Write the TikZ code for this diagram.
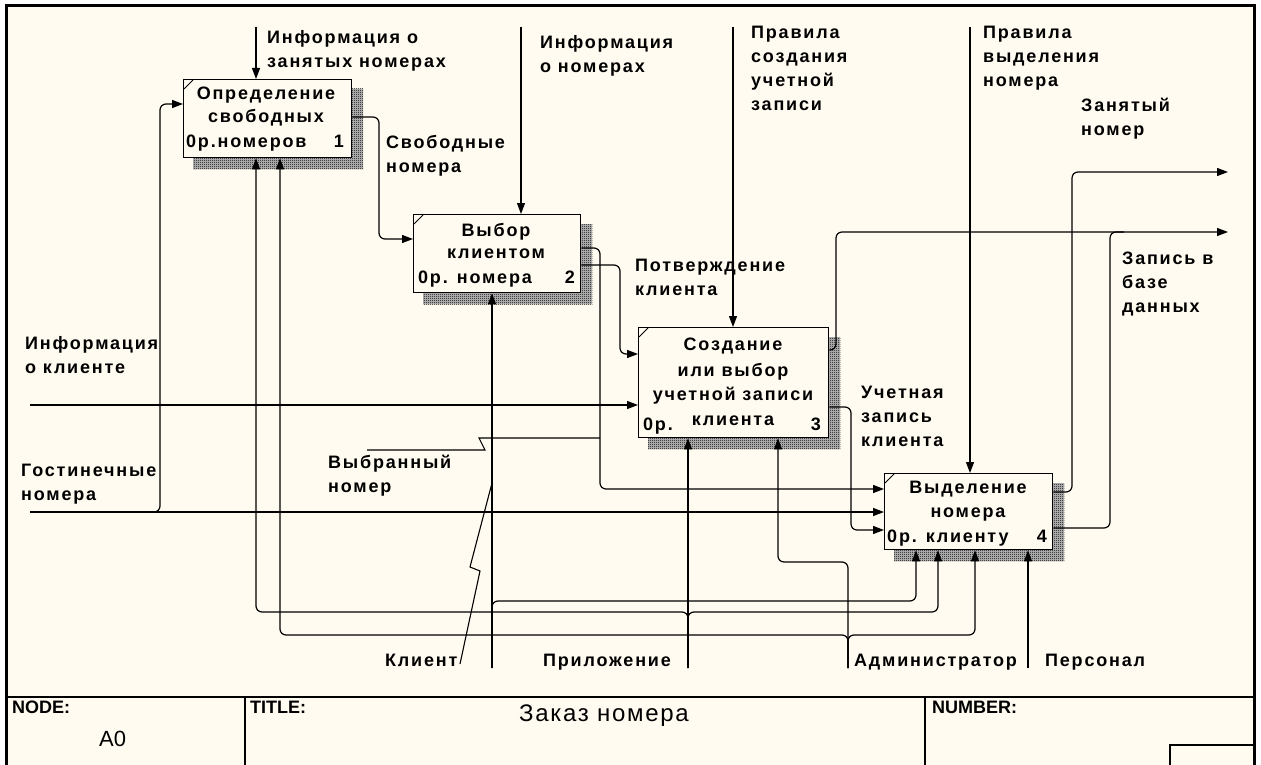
\documentclass[tikz,border=0pt]{standalone}
\usepackage{fontspec}
\setmainfont{Liberation Sans}
\newfontfamily\idef[LetterSpace=10]{Liberation Sans}
\newfontfamily\titlefont[LetterSpace=7]{Liberation Sans}
\usetikzlibrary{arrows.meta,patterns,backgrounds}
\definecolor{paper}{HTML}{FFFBF0}

% fine 1:1 checker used for the drop shadows of the function boxes
\pgfdeclarepatternformonly{checker}{\pgfqpoint{0pt}{0pt}}{\pgfqpoint{2pt}{2pt}}{\pgfqpoint{2pt}{2pt}}{%
  \pgfpathrectangle{\pgfqpoint{0pt}{0pt}}{\pgfqpoint{1pt}{1pt}}%
  \pgfpathrectangle{\pgfqpoint{1pt}{1pt}}{\pgfqpoint{1pt}{1pt}}%
  \pgfusepath{fill}}

\tikzset{
  fbox/.style={draw, fill=paper, line width=1.3pt, inner sep=0pt, anchor=north west},
  boxshadow/.style={fill=black!25, postaction={pattern=checker, pattern color=black}},
  conn/.style={line width=1.2pt, rounded corners=6pt},
  arr/.style={conn, -{Triangle[length=11pt,width=8pt]}},
  zig/.style={line width=1.1pt},
  lbl/.style={font=\idef\bfseries\fontsize{18}{24}\selectfont, align=left, inner sep=0pt, anchor=north west},
  btxt/.style={font=\idef\bfseries\fontsize{18}{24}\selectfont, inner sep=0pt, anchor=base},
  hdr/.style={font=\bfseries\fontsize{18}{20}\selectfont, inner sep=0pt, anchor=north west},
}

\begin{document}
\begin{tikzpicture}[x=1pt,y=-1pt]
\useasboundingbox (0,0) rectangle (1261,765);

% ---------- function boxes ----------
\node[fbox, minimum width=168pt, minimum height=78pt]  (b1) at (183,79)  {};
\node[fbox, minimum width=167pt, minimum height=78pt]  (b2) at (413,214) {};
\node[fbox, minimum width=190pt, minimum height=110pt] (b3) at (638,327) {};
\node[fbox, minimum width=168pt, minimum height=76pt]  (b4) at (884,473) {};

\begin{scope}[on background layer]
  \fill[white] (0,0) rectangle (1261,765);
  \fill[paper] (6,6) rectangle (1254,765);
  \foreach \b in {b1,b2,b3,b4}
    \path[boxshadow] ([shift={(10,10)}]\b.north west) rectangle ([shift={(11,11)}]\b.south east);
\end{scope}

% corner ticks of the boxes
\foreach \b in {b1,b2,b3,b4}
  \draw[line width=0.8pt] ([shift={(1,10)}]\b.north west) -- ([shift={(10,1)}]\b.north west);

% box texts
\node[btxt] (t1a) at (266,100) {Определение};
\node[btxt] (t1b) at (266,123) {свободных};
\node[btxt, anchor=base west] (t1c) at (186,148) {0р.номеров};
\node[btxt, anchor=base east] (t1d) at (344,148) {1};

\node[btxt] (t2a) at (496,236) {Выбор};
\node[btxt] (t2b) at (496,258) {клиентом};
\node[btxt, anchor=base west] (t2c) at (418,283) {0р. номера};
\node[btxt, anchor=base east] (t2d) at (575,283) {2};

\node[btxt] (t3a) at (733,350) {Создание};
\node[btxt] (t3b) at (733,376) {или выбор};
\node[btxt] (t3c) at (733,400) {учетной записи};
\node[btxt] (t3d) at (733,425) {клиента};
\node[btxt, anchor=base west] (t3e) at (643,430) {0р.};
\node[btxt, anchor=base east] (t3f) at (821,430) {3};

\node[btxt] (t4a) at (968,493) {Выделение};
\node[btxt] (t4b) at (968,517) {номера};
\node[btxt, anchor=base west] (t4c) at (887,542) {0р. клиенту};
\node[btxt, anchor=base east] (t4d) at (1047,542) {4};

% ---------- controls ----------
\coordinate (c1) at (256,27);
\coordinate (c2) at (521,27);
\coordinate (c3) at (733,27);
\coordinate (c4) at (970,27);
\draw[arr] (c1) -- (c1 |- b1.north);
\draw[arr] (c2) -- (c2 |- b2.north);
\draw[arr] (c3) -- (c3 |- b3.north);
\draw[arr] (c4) -- (c4 |- b4.north);

% ---------- inputs ----------
\coordinate (i1) at (30,405);
\coordinate (i2) at (30,512);
\draw[arr] (i1) -- (i1 -| b3.west);
\draw[arr] (i2) -- (i2 -| b4.west);
\draw[arr] (i2) -- (160,512) -- (160,104) -- (b1.west |- 0,104);

% ---------- box to box ----------
\draw[arr] (b1.east |- 0,117) -- (379,117) -- (379,239) -- (b2.west |- 0,239);
\draw[arr] (b2.east |- 0,248) -- (600,248) -- (600,489) -- (b4.west |- 0,489);
\draw[arr] (b2.east |- 0,265) -- (620,265) -- (620,354) -- (b3.west |- 0,354);
\draw[arr] (b3.east |- 0,407) -- (851,407) -- (851,530) -- (b4.west |- 0,530);

% ---------- outputs ----------
\coordinate (o1) at (1228,172);
\coordinate (o2) at (1228,232);
\draw[arr] (b4.east |- 0,492) -- (1072,492) -- (1072,172) -- (o1);
\draw[arr] (b3.east |- 0,350) -- (836,350) -- (836,232) -- (o2);
\draw[conn] (b4.east |- 0,528) -- (1110,528) -- (1110,232) -- (1124,232);

% ---------- mechanisms ----------
\coordinate (m1) at (492,668);
\coordinate (m2) at (688,668);
\coordinate (m3) at (848,668);
\coordinate (m4) at (1028,668);
\draw[arr] (m1) -- (m1 |- b2.south);
\draw[arr] (m1) -- (492,601) -- (916,601) -- (916,0 |- b4.south);
\draw[arr] (m2) -- (m2 |- b3.south);
\draw[arr] (m2) -- (688,612) -- (256,612) -- (256,0 |- b1.south);
\draw[arr] (m2) -- (688,612) -- (938,612) -- (938,0 |- b4.south);
\draw[arr] (m3) -- (848,562) -- (778,562) -- (778,0 |- b3.south);
\draw[arr] (m3) -- (848,635) -- (280,635) -- (280,0 |- b1.south);
\draw[arr] (m3) -- (848,635) -- (975,635) -- (975,0 |- b4.south);
\draw[arr] (m4) -- (m4 |- b4.south);

% ---------- arrow labels ----------
\node[lbl] (l1)  at (267,30)  {Информация о\\занятых номерах};
\node[lbl] (l2)  at (540,35)  {Информация\\о номерах};
\node[lbl] (l3)  at (751,26)  {Правила\\создания\\учетной\\записи};
\node[lbl] (l4)  at (983,26)  {Правила\\выделения\\номера};
\node[lbl] (l5)  at (1081,98) {Занятый\\номер};
\node[lbl] (l6)  at (386,135) {Свободные\\номера};
\node[lbl] (l7)  at (635,259) {Потверждение\\клиента};
\node[lbl] (l8)  at (1122,252) {Запись в\\базе\\данных};
\node[lbl] (l9)  at (861,386) {Учетная\\запись\\клиента};
\node[lbl] (l10) at (25,336)  {Информация\\о клиенте};
\node[lbl] (l11) at (21,464)  {Гостинечные\\номера};
\node[lbl] (l12) at (328,455) {Выбранный\\номер};
\node[lbl] (l13) at (385,654) {Клиент};
\node[lbl] (l14) at (543,654) {Приложение};
\node[lbl] (l15) at (854,654) {Администратор};
\node[lbl] (l16) at (1045,654) {Персонал};

% squiggles tying labels to their arrows
\coordinate (z1a) at (460,664);
\coordinate (z1b) at (480,571);
\coordinate (z1c) at (470,567);
\coordinate (z1d) at (492,483);
\draw[zig] (z1a) -- (z1b) -- (z1c) -- (z1d);
\coordinate (z2a) at (367,450);
\coordinate (z2b) at (485,450);
\coordinate (z2c) at (479,438);
\coordinate (z2d) at (600,438);
\draw[zig] (z2a) -- (z2b) -- (z2c) -- (z2d);

% ---------- frame and title block ----------
\draw[line width=3pt] (6,770) -- (6,6) -- (1254,6) -- (1254,770);
\draw[line width=1.5pt] (6,697) -- (1254,697);
\draw[line width=1.2pt] (245,697) -- (245,770);
\draw[line width=1.2pt] (925,697) -- (925,770);
\draw[line width=1.2pt] (1170,770) -- (1170,745) -- (1254,745);

\node[hdr] (hnode)  at (12,701)  {NODE:};
\node[hdr] (htitle) at (250,701) {TITLE:};
\node[hdr] (hnum)   at (932,701) {NUMBER:};
\node[inner sep=0pt, anchor=north west, font=\titlefont\fontsize{24}{26}\selectfont] (title) at (519,705) {Заказ номера};
\node[inner sep=0pt, anchor=north west, font=\fontsize{22}{24}\selectfont] (nodeid) at (99,731) {A0};
\end{tikzpicture}
\end{document}
